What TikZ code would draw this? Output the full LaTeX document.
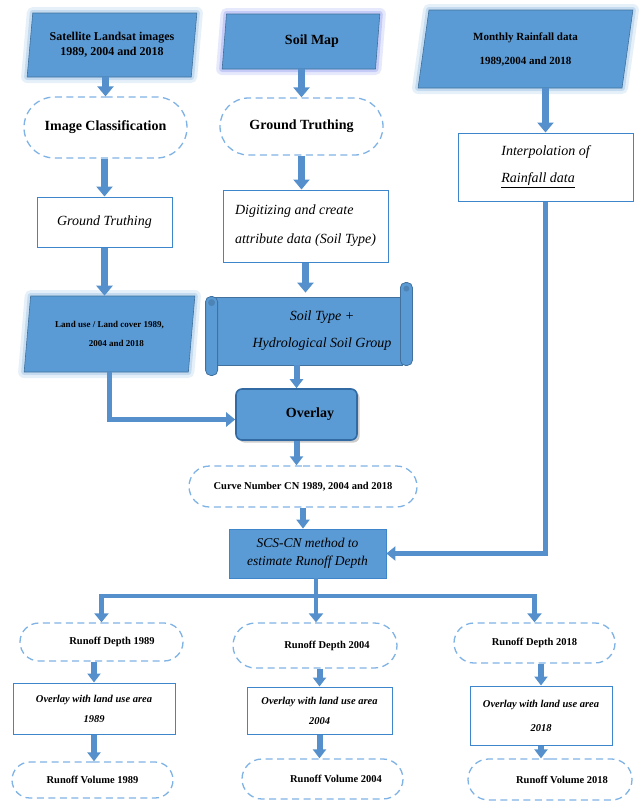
\documentclass[tikz,border=0pt]{standalone}
\usepackage{fontspec}
\setmainfont{Liberation Serif}
\usetikzlibrary{shapes.geometric,shapes.misc,arrows.meta,shadows}

\definecolor{boxblue}{HTML}{5B9BD5}
\definecolor{edgeblue}{HTML}{41719C}
\definecolor{lineblue}{HTML}{3E86CC}
\definecolor{dashblue}{HTML}{7FB2E5}
\definecolor{glowblue}{HTML}{9DC3E6}
\definecolor{glowviolet}{HTML}{9AA6F0}
\definecolor{flowblue}{HTML}{5590CC}

\newcommand{\fsz}[2]{\fontsize{#1}{#2}\selectfont}

\begin{document}
\begin{tikzpicture}[x=1pt, y=-1pt,
    dataio/.style={trapezium, trapezium left angle=80, trapezium right angle=100,
      trapezium stretches=true, fill=boxblue, draw=edgeblue, line width=0.6pt,
      inner sep=0pt, align=center,
      preaction={draw=#1, line width=12pt, line join=round, opacity=0.25},
      preaction={draw=#1, line width=6pt, line join=round, opacity=0.45}},
    dataio/.default=glowblue,
    task/.style={rectangle, draw=lineblue, line width=1pt, fill=white,
      inner sep=0pt, align=center},
    term/.style={rounded rectangle, draw=dashblue, line width=1.3pt,
      dash pattern=on 7pt off 4.5pt, inner sep=0pt, align=center},
    proc/.style={rectangle, fill=boxblue, draw=edgeblue, line width=0.8pt,
      inner sep=0pt, align=center},
    scrollpart/.style={fill=boxblue, draw=edgeblue, line width=0.8pt},
    bigflow/.style={draw=flowblue, line width=6.5pt, -{Triangle[width=16pt,length=10pt]}},
    smallflow/.style={draw=flowblue, line width=6pt, -{Triangle[width=13pt,length=9pt]}},
    link/.style={draw=flowblue, line width=4.5pt, -{Triangle[width=14pt,length=9pt]}},
    stem/.style={draw=flowblue, line width=4.5pt}]
\useasboundingbox (0,0) rectangle (640,801);

% input data
\node[dataio, minimum width=170pt, minimum height=64pt, font=\fsz{12}{15}\bfseries]
  (sat) at (112,45) {Satellite Landsat images\\ 1989, 2004 and 2018};
\node[dataio=glowviolet, minimum width=158pt, minimum height=55pt, font=\fsz{14}{17}\bfseries]
  (soilmap) at (301,41.5) {\hspace*{22pt}Soil Map};
\node[dataio, minimum width=215pt, minimum height=78pt, font=\fsz{11}{24}\bfseries]
  (rain) at (525.5,49) {Monthly Rainfall data\\ 1989,2004 and 2018};

% land cover branch
\node[term, minimum width=163pt, minimum height=61pt, font=\fsz{14}{17}\bfseries]
  (ic) at (105.5,127.5) {Image Classification};
\node[task, minimum width=135pt, minimum height=50pt, font=\fsz{14}{17}\itshape]
  (gt1) at (104.5,222) {Ground Truthing};
\node[dataio, minimum width=171pt, minimum height=76pt, font=\fsz{9}{19}\bfseries]
  (lu) at (109.5,334) {Land use / Land cover 1989,\\ \hspace*{14pt}2004 and 2018};

% soil branch
\node[term, minimum width=163pt, minimum height=57pt, font=\fsz{14}{17}\bfseries]
  (gt2) at (301.5,126.5) {Ground Truthing};
\node[task, minimum width=165pt, minimum height=72pt, align=left, font=\fsz{14}{29}\itshape]
  (dig) at (305.5,226) {Digitizing and create\\ attribute data (Soil Type)};
\node[proc, minimum width=188pt, minimum height=68pt, font=\fsz{14}{27}\itshape]
  (st) at (308,331) {\hspace*{28pt}Soil Type +\\ \hspace*{28pt}Hydrological Soil Group};
% scroll rolls
\draw[scrollpart, rounded corners=5pt] ([xshift=-2pt,yshift=14pt]st.north east)
  rectangle ([xshift=10pt]st.south east);
\draw[scrollpart, rounded corners=5pt] ([xshift=-8pt]st.north west)
  rectangle ([xshift=4pt,yshift=-10pt]st.south west);
\fill[boxblue!85!black] ([xshift=4pt,yshift=8pt]st.north east) circle (3pt);
\fill[boxblue!85!black] ([xshift=-2pt,yshift=-6pt]st.north west) circle (3.5pt);

% rainfall branch
\node[task, minimum width=175pt, minimum height=68pt, align=left, font=\fsz{14}{27}\itshape]
  (interp) at (545.5,167) {Interpolation of\\ \underline{Rainfall data}};

% combination
\node[proc, rounded corners=6pt, minimum width=121pt, minimum height=51pt,
  draw=lineblue!80!black, line width=1.6pt, font=\fsz{14}{17}\bfseries,
  drop shadow={shadow xshift=2.5pt, shadow yshift=-2.5pt, opacity=0.4}]
  (ov) at (296.5,414.5) {\hspace*{27pt}Overlay};
\node[term, minimum width=228pt, minimum height=41pt, font=\fsz{10.5}{13}\bfseries]
  (cn) at (303,486.5) {Curve Number CN 1989, 2004 and 2018};
\node[proc, minimum width=157pt, minimum height=49pt, draw=lineblue, font=\fsz{13.5}{18}\itshape]
  (scs) at (307.5,553.5) {SCS-CN method to\\ estimate Runoff Depth};

% results per year
\node[term, minimum width=163pt, minimum height=38pt, font=\fsz{10.5}{13}\bfseries]
  (rd1) at (101.5,642) {\hspace*{21pt}Runoff Depth 1989};
\node[term, minimum width=164pt, minimum height=45pt, font=\fsz{10.5}{13}\bfseries]
  (rd2) at (315,645.5) {\hspace*{24pt}Runoff Depth 2004};
\node[term, minimum width=161pt, minimum height=40pt, font=\fsz{10.5}{13}\bfseries]
  (rd3) at (534.5,643) {Runoff Depth 2018};
\node[task, minimum width=162pt, minimum height=51pt, font=\fsz{10.5}{20}\bfseries\itshape]
  (ob1) at (94,708.5) {Overlay with land use area\\ 1989};
\node[task, minimum width=145pt, minimum height=47pt, font=\fsz{10.5}{20}\bfseries\itshape]
  (ob2) at (319.5,710.5) {Overlay with land use area\\ 2004};
\node[task, minimum width=142pt, minimum height=59pt, font=\fsz{10.5}{24}\bfseries\itshape]
  (ob3) at (541,715.5) {Overlay with land use area\\ 2018};
\node[term, minimum width=161pt, minimum height=36pt, font=\fsz{10.5}{13}\bfseries]
  (rv1) at (92.5,780) {Runoff Volume 1989};
\node[term, minimum width=161pt, minimum height=40pt, font=\fsz{10.5}{13}\bfseries]
  (rv2) at (322.5,779) {\hspace*{27pt}Runoff Volume 2004};
\node[term, minimum width=164pt, minimum height=41pt, font=\fsz{10.5}{13}\bfseries]
  (rv3) at (550,779.5) {\hspace*{24pt}Runoff Volume 2018};

% connectors
\draw[bigflow] (ic.north |- sat.south) -- (ic.north);
\draw[bigflow] (gt1.north |- ic.south) -- (gt1.north);
\draw[bigflow] (gt1.south) -- (gt1.south |- lu.north);
\draw[bigflow] (soilmap.south -| gt2.north) -- (gt2.north);
\draw[bigflow] (gt2.south) -- (gt2.south |- dig.north);
\draw[bigflow] (dig.south) -- ([yshift=4pt]dig.south |- st.north);
\draw[bigflow] (rain.south -| interp.north) -- (interp.north);
\draw[smallflow] (st.south -| ov.north) -- (ov.north);
\draw[link] (lu.south) |- ([yshift=-5pt]ov.west);
\draw[smallflow] (ov.south) -- (ov.south |- cn.north);
\draw[smallflow] (cn.south) -- (cn.south |- scs.north);
\draw[link] (interp.south) |- (scs.east);

\coordinate (fork) at (316,596);
\draw[stem] (fork |- scs.south) -- (fork);
\draw[link] (fork) -| (rd1.north);
\draw[link] (fork) -| (rd3.north);
\draw[link] (fork) -- (fork |- rd2.north);

\foreach \y in {1,2,3} {
  \draw[smallflow] (ob\y.north |- rd\y.south) -- (ob\y.north);
  \draw[smallflow] (ob\y.south) -- (ob\y.south |- rv\y.north);
}
\end{tikzpicture}
\end{document}
